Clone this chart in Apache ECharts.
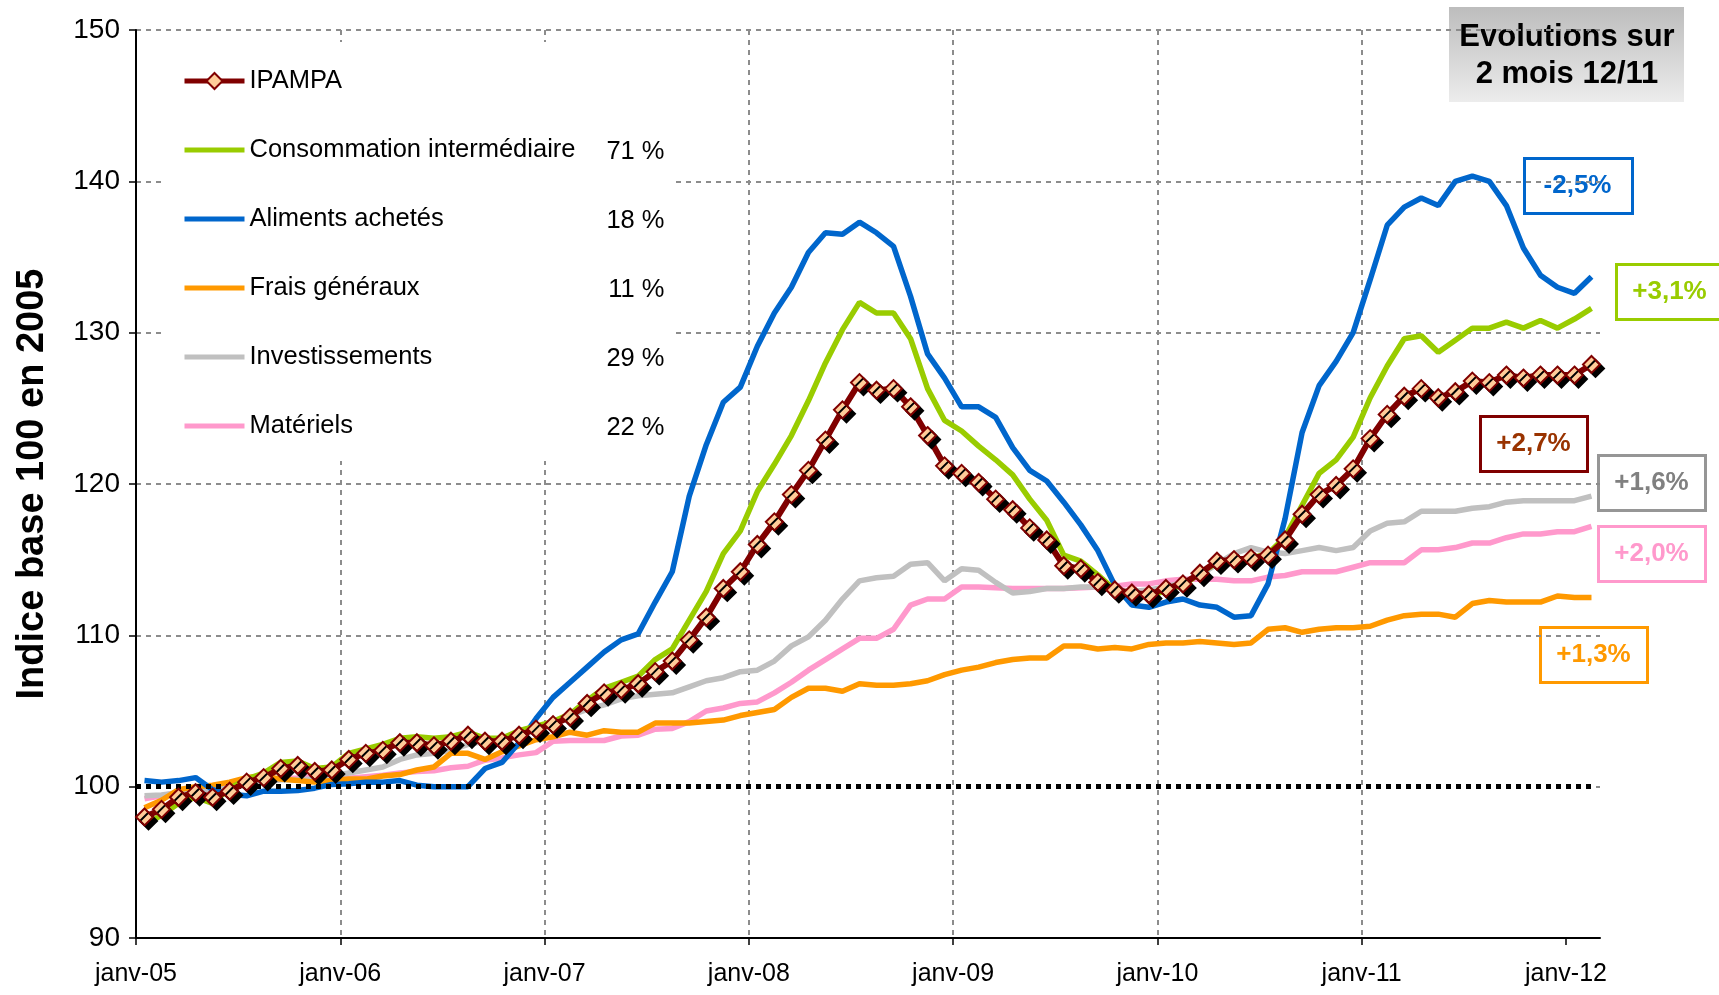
<!DOCTYPE html>
<html>
<head>
<meta charset="utf-8">
<script src="https://cdn.jsdelivr.net/npm/echarts@6/dist/echarts.min.js"></script>
<style>
  html, body { margin: 0; padding: 0; background: #fff; }
  #chart { width: 1719px; height: 995px; }
</style>
</head>
<body>
<div id="chart"></div>
<script>
// Données mensuelles janv-05 -> févr-12 (86 mois), indice base 100 en 2005
var yearLabels = ["janv-05", "janv-06", "janv-07", "janv-08", "janv-09", "janv-10", "janv-11", "janv-12"];

var seriesNames = ["IPAMPA", "Consommation intermédiaire", "Aliments achetés", "Frais généraux", "Investissements", "Matériels"];
var weights = ["", "71 %", "18 %", "11 %", "29 %", "22 %"];
var evolutions = ["-2,5%", "+3,1%", "+2,7%", "+1,6%", "+2,0%", "+1,3%"];

var ipampa = [
  98.0, 98.5, 99.3, 99.6, 99.3, 99.7, 100.3, 100.6, 101.2, 101.4, 101.0, 101.1,
  101.8, 102.2, 102.4, 102.9, 102.9, 102.7, 103.0, 103.4, 103.0, 103.0, 103.4, 103.8,
  104.1, 104.6, 105.5, 106.2, 106.4, 106.8, 107.6, 108.3, 109.7, 111.2, 113.1, 114.2,
  116.0, 117.5, 119.3, 120.9, 122.9, 124.9, 126.7, 126.2, 126.3, 125.1, 123.2, 121.2,
  120.7, 120.1, 119.0, 118.3, 117.1, 116.3, 114.6, 114.4, 113.5, 113.0, 112.8, 112.7,
  113.1, 113.4, 114.1, 114.9, 115.0, 115.1, 115.3, 116.3, 118.0, 119.3, 119.9, 121.0,
  123.0, 124.6, 125.8, 126.3, 125.7, 126.1, 126.8, 126.7, 127.2, 127.0, 127.2, 127.2,
  127.2, 127.9
];

var consommation = [
  97.5, 98.1, 98.9, 99.3, 98.9, 99.9, 100.5, 100.9, 101.6, 101.7, 101.2, 101.3,
  102.2, 102.5, 102.8, 103.2, 103.3, 103.2, 103.3, 103.6, 103.2, 103.2, 103.7, 104.0,
  104.3, 104.8, 105.7, 106.5, 106.9, 107.3, 108.4, 109.1, 111.0, 112.9, 115.4, 116.9,
  119.5, 121.3, 123.2, 125.5, 128.0, 130.2, 132.0, 131.3, 131.3, 129.6, 126.3, 124.2,
  123.5, 122.5, 121.6, 120.6, 119.0, 117.6, 115.3, 114.9, 114.0, 113.0, 112.7, 112.5,
  113.0, 113.3, 114.1, 114.8, 114.9, 115.1, 115.4, 116.5, 118.6, 120.7, 121.6, 123.1,
  125.7, 127.8, 129.6, 129.8, 128.7, 129.5, 130.3, 130.3, 130.7, 130.3, 130.8, 130.3,
  130.9, 131.6
];

var aliments = [
  100.4, 100.3, 100.4, 100.6, 99.8, 99.5, 99.4, 99.7, 99.7, 99.75, 99.9, 100.15,
  100.2, 100.3, 100.3, 100.4, 100.1, 100.0, 100.0, 100.0, 101.2, 101.6, 102.9, 104.5,
  105.9, 106.9, 107.9, 108.9, 109.7, 110.1, 112.2, 114.2, 119.2, 122.6, 125.4, 126.4,
  129.1, 131.3, 133.0, 135.3, 136.6, 136.5, 137.3, 136.6, 135.7, 132.4, 128.6, 127.0,
  125.1, 125.1, 124.4, 122.4, 120.9, 120.2, 118.8, 117.3, 115.6, 113.3, 112.0, 111.85,
  112.2, 112.4, 112.0, 111.85, 111.2, 111.3, 113.4, 117.7, 123.4, 126.5, 128.1, 130.0,
  133.5, 137.1, 138.3, 138.9, 138.4, 140.0, 140.35, 140.0, 138.4, 135.6, 133.8, 133.0,
  132.6, 133.7
];

var frais = [
  98.6, 99.1, 99.8, 100.0, 100.1, 100.3, 100.6, 100.7, 100.5, 100.4, 100.3, 100.4,
  100.5, 100.5, 100.7, 100.8, 101.1, 101.3, 102.2, 102.2, 101.8, 102.3, 102.7, 103.1,
  103.3, 103.6, 103.4, 103.7, 103.6, 103.6, 104.2, 104.2, 104.2, 104.3, 104.4, 104.7,
  104.9, 105.1, 105.9, 106.5, 106.5, 106.3, 106.8, 106.7, 106.7, 106.8, 107.0, 107.4,
  107.7, 107.9, 108.2, 108.4, 108.5, 108.5, 109.3, 109.3, 109.1, 109.2, 109.1, 109.4,
  109.5, 109.5, 109.6, 109.5, 109.4, 109.5, 110.4, 110.5, 110.2, 110.4, 110.5, 110.5,
  110.6, 111.0, 111.3, 111.4, 111.4, 111.2, 112.1, 112.3, 112.2, 112.2, 112.2, 112.6,
  112.5, 112.5
];

var investissements = [
  99.4, 99.45, 99.6, 99.8, 99.8, 99.95, 100.1, 100.25, 100.45, 100.45, 100.5, 100.7,
  100.9, 101.1, 101.3, 101.8, 102.1, 102.2, 102.4, 102.8, 103.0, 103.2, 103.4, 103.8,
  104.2, 104.7, 105.1, 105.4, 105.8, 106.0, 106.1, 106.2, 106.6, 107.0, 107.2, 107.6,
  107.7, 108.3, 109.3, 109.9, 111.0, 112.4, 113.6, 113.8, 113.9, 114.7, 114.8, 113.6,
  114.4, 114.3, 113.5, 112.8, 112.9, 113.1, 113.1, 113.2, 113.2, 113.0, 112.9, 113.0,
  113.2, 113.5, 114.0, 114.7, 115.4, 115.8, 115.5, 115.4, 115.6, 115.8, 115.6, 115.8,
  116.9, 117.4, 117.5, 118.2, 118.2, 118.2, 118.4, 118.5, 118.8, 118.9, 118.9, 118.9,
  118.9, 119.2
];

var materiels = [
  99.2, 99.4, 99.6, 99.8, 99.95, 100.1, 100.2, 100.45, 100.55, 100.55, 100.65, 100.65,
  100.55, 100.65, 100.75, 100.9, 101.0, 101.05, 101.25, 101.35, 101.75, 101.9, 102.1, 102.25,
  103.0, 103.05, 103.05, 103.05, 103.35, 103.4, 103.8, 103.85, 104.3, 105.0, 105.2, 105.5,
  105.6, 106.2, 106.9, 107.7, 108.4, 109.1, 109.8, 109.8, 110.4, 112.0, 112.4, 112.4,
  113.2, 113.2, 113.15, 113.1, 113.1, 113.1, 113.1, 113.15, 113.2, 113.25, 113.4, 113.4,
  113.6, 113.7, 113.7, 113.7, 113.6, 113.6, 113.85, 113.95, 114.2, 114.2, 114.2, 114.5,
  114.8, 114.8, 114.8, 115.65, 115.65, 115.8, 116.1, 116.1, 116.45, 116.7, 116.7, 116.85,
  116.85, 117.2
];

var FONT = "'Liberation Sans', Arial, sans-serif";
var myChart = echarts.init(document.getElementById("chart"));

// chaque point au milieu de son mois
function toPoints(values) {
  return values.map(function (v, i) { return [i + 0.5, v]; });
}

function lineSeries(name, values, color, z) {
  return {
    name: name,
    type: "line",
    data: toPoints(values),
    symbol: "none",
    z: z,
    lineStyle: { color: color, width: 5.5 },
    itemStyle: { color: color },
    emphasis: { disabled: true }
  };
}

var pctByName = {};
seriesNames.forEach(function (n, i) { pctByName[n] = weights[i]; });

// légende : pas de rond sur les séries sans marqueur
var legendData = seriesNames.map(function (n) {
  if (n === "IPAMPA") return { name: n };
  return { name: n, itemStyle: { opacity: 0 } };
});

// boîtes d'évolution (pixels)
var boxSpecs = [
  { x: 1523, y: 157, w: 108, h: 55, color: "#0066cc", text: "#0066cc" },
  { x: 1615, y: 263, w: 112, h: 55, color: "#99cc00", text: "#99cc00" },
  { x: 1479, y: 415, w: 107, h: 55, color: "#800000", text: "#993300" },
  { x: 1597, y: 454, w: 107, h: 55, color: "#969696", text: "#808080" },
  { x: 1597, y: 525, w: 107, h: 55, color: "#ff99cc", text: "#ff99cc" },
  { x: 1539, y: 626, w: 107, h: 55, color: "#ff9900", text: "#ff9900" }
];
var boxes = boxSpecs.map(function (b, i) {
  return {
    type: "group",
    left: b.x, top: b.y,
    children: [
      { type: "rect", shape: { x: 0, y: 0, width: b.w, height: b.h },
        style: { fill: "#fff", stroke: b.color, lineWidth: 3 } },
      { type: "text", x: 53, y: b.h / 2,
        style: { text: evolutions[i], fill: b.text, font: "bold 26px " + FONT,
                 textAlign: "center", textVerticalAlign: "middle" } }
    ]
  };
});

var option = {
  backgroundColor: "#fff",
  animation: false,
  grid: { left: 136, right: 119, top: 30, bottom: 57 },
  xAxis: {
    type: "value",
    min: 0,
    max: 86,
    interval: 12,
    axisLine: { lineStyle: { color: "#000", width: 2 } },
    axisTick: { show: true, length: 7, lineStyle: { color: "#000", width: 1.5 },
                customValues: [0, 12, 24, 36, 48, 60, 72, 84] },
    axisLabel: {
      color: "#000", fontSize: 25, fontFamily: FONT, margin: 24, showMaxLabel: false,
      formatter: function (v) { return v % 12 === 0 ? (yearLabels[v / 12] || "") : ""; }
    },
    splitLine: { show: true, showMinLine: false, showMaxLine: false,
                 lineStyle: { color: "#8c8c8c", width: 2, type: [5, 5] } }
  },
  yAxis: {
    type: "value",
    min: 90,
    max: 150,
    interval: 10,
    name: "Indice base 100 en 2005",
    nameLocation: "middle",
    nameGap: 84,
    nameTextStyle: { color: "#000", fontSize: 38, fontWeight: "bold", fontFamily: FONT },
    axisLine: { show: true, lineStyle: { color: "#000", width: 2 } },
    axisTick: { show: true, length: 7, lineStyle: { color: "#000", width: 1.5 } },
    axisLabel: { color: "#000", fontSize: 28, fontFamily: FONT, margin: 16 },
    splitLine: { show: true, showMinLine: false,
                 lineStyle: { color: "#8c8c8c", width: 2, type: [5, 5] } }
  },
  legend: {
    data: legendData,
    orient: "vertical",
    left: 162,
    top: 42,
    padding: [24, 9, 20, 20],
    backgroundColor: "#fff",
    itemWidth: 60,
    itemHeight: 20,
    itemGap: 39,
    selectedMode: false,
    lineStyle: { width: 5 },
    textStyle: {
      color: "#000", fontSize: 25.5, fontFamily: FONT, lineHeight: 30,
      rich: {
        n: { width: 355, fontSize: 25.5, fontFamily: FONT, color: "#000" },
        p: { width: 60, align: "right", fontSize: 25.5, fontFamily: FONT, color: "#000",
             padding: [4, 0, 0, 0] }
      }
    },
    formatter: function (name) {
      return "{n|" + name + "}{p|" + pctByName[name] + "}";
    }
  },
  graphic: [
    {
      type: "group",
      left: 1449, top: 7,
      children: [
        { type: "rect", shape: { x: 0, y: 0, width: 235, height: 95 },
          style: { fill: new echarts.graphic.LinearGradient(0, 0, 0, 1, [
            { offset: 0, color: "#bdbdbd" }, { offset: 1, color: "#ececec" }]) } },
        { type: "text", x: 118, y: 30,
          style: { text: "Evolutions sur", font: "bold 31px " + FONT, fill: "#000",
                   textAlign: "center", textVerticalAlign: "middle" } },
        { type: "text", x: 118, y: 67,
          style: { text: "2 mois 12/11", font: "bold 31px " + FONT, fill: "#000",
                   textAlign: "center", textVerticalAlign: "middle" } }
      ]
    }
  ].concat(boxes),
  series: [
    lineSeries("Matériels", materiels, "#ff99cc", 2),
    lineSeries("Investissements", investissements, "#c0c0c0", 3),
    lineSeries("Frais généraux", frais, "#ff9900", 4),
    lineSeries("Aliments achetés", aliments, "#0066cc", 5),
    lineSeries("Consommation intermédiaire", consommation, "#99cc00", 6),
    {
      name: "IPAMPA",
      type: "line",
      data: toPoints(ipampa),
      z: 8,
      symbol: "diamond",
      symbolSize: 17,
      showAllSymbol: true,
      lineStyle: { color: "#800000", width: 6 },
      itemStyle: { color: "#ffcc99", borderColor: "#800000", borderWidth: 2,
                   shadowColor: "#000", shadowBlur: 0, shadowOffsetX: 4, shadowOffsetY: 4 },
      emphasis: { disabled: true },
      markLine: {
        silent: true,
        symbol: "none",
        z: 7,
        label: { show: false },
        lineStyle: { color: "#000", width: 5, type: [5, 5] },
        data: [[{ coord: [0, 100] }, { coord: [85.5, 100] }]]
      }
    }
  ]
};

myChart.setOption(option);

window.addEventListener("resize", function () {
  if (myChart != null && myChart != undefined) {
    myChart.resize();
  }
});
</script>
</body>
</html>
